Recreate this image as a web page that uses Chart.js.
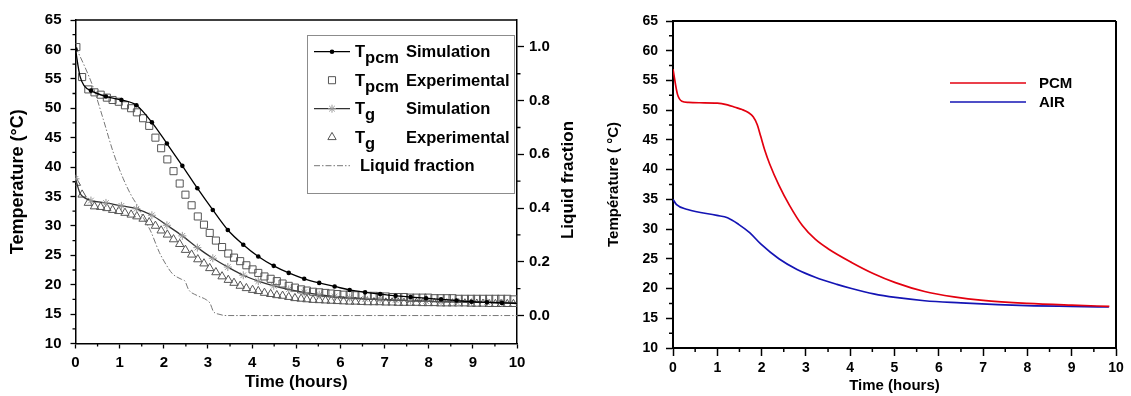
<!DOCTYPE html>
<html>
<head>
<meta charset="utf-8">
<script src="https://cdn.jsdelivr.net/npm/chart.js@4.4.0/dist/chart.umd.min.js"></script>
<style>
  html, body { margin: 0; padding: 0; background: #fff; }
  #left { position: absolute; left: 0; top: 0; width: 590px; height: 396px; }
  #right { position: absolute; left: 595px; top: 0; width: 536px; height: 396px; }
</style>
</head>
<body>
<div id="left"><canvas id="chartLeft"></canvas></div>
<div id="right"><canvas id="chartRight"></canvas></div>
<script>
// ---- Left panel data ----
const simTimes = [0, 0.1, 0.2, 0.35, 0.69, 1.04, 1.38, 1.73, 2.07, 2.42, 2.76, 3.11, 3.45, 3.8, 4.14, 4.49, 4.83, 5.18, 5.52, 5.87, 6.21, 6.56, 6.9, 7.25, 7.59, 7.94, 8.28, 8.63, 8.97, 9.32, 9.66, 10];
const tpcmSim = [60.0, 55.5, 53.8, 53.0, 52.0, 51.4, 50.5, 47.6, 44.0, 40.2, 36.4, 32.7, 29.3, 26.8, 24.8, 23.2, 22.0, 21.0, 20.3, 19.7, 19.1, 18.7, 18.4, 18.1, 17.9, 17.7, 17.5, 17.3, 17.1, 17.0, 16.9, 16.8];
const tgSim = [38.0, 35.6, 34.8, 34.3, 33.9, 33.4, 32.9, 31.8, 30.1, 28.3, 26.3, 24.5, 23.0, 21.6, 20.6, 19.8, 19.2, 18.7, 18.3, 18.0, 17.8, 17.6, 17.5, 17.4, 17.3, 17.2, 17.1, 17.05, 17.0, 17.0, 16.9, 16.9];

const expTimes = [0.02, 0.15, 0.29, 0.43, 0.57, 0.71, 0.84, 0.98, 1.12, 1.26, 1.39, 1.53, 1.67, 1.81, 1.94, 2.08, 2.22, 2.36, 2.49, 2.63, 2.77, 2.91, 3.04, 3.18, 3.32, 3.46, 3.59, 3.73, 3.87, 4.01, 4.14, 4.28, 4.42, 4.56, 4.69, 4.83, 4.97, 5.11, 5.24, 5.38, 5.52, 5.66, 5.79, 5.93, 6.07, 6.21, 6.34, 6.48, 6.62, 6.76, 6.89, 7.03, 7.17, 7.31, 7.44, 7.58, 7.72, 7.86, 7.99, 8.13, 8.27, 8.41, 8.54, 8.68, 8.82, 8.96, 9.09, 9.23, 9.37, 9.51, 9.64, 9.78, 9.92];
const tpcmExp = [60.4, 55.3, 53.2, 52.7, 52.3, 51.8, 51.4, 51.1, 50.5, 50.0, 49.3, 48.3, 47.0, 45.0, 43.2, 41.3, 39.3, 37.2, 35.3, 33.5, 31.6, 30.2, 28.8, 27.5, 26.4, 25.3, 24.6, 24.0, 23.3, 22.6, 22.0, 21.4, 21.0, 20.6, 20.2, 19.8, 19.5, 19.2, 19.0, 18.8, 18.7, 18.6, 18.5, 18.4, 18.3, 18.3, 18.2, 18.2, 18.1, 18.1, 18.0, 18.0, 17.9, 17.9, 17.9, 17.8, 17.8, 17.8, 17.8, 17.7, 17.7, 17.7, 17.7, 17.6, 17.6, 17.6, 17.6, 17.6, 17.6, 17.6, 17.6, 17.6, 17.5];
const tgExp = [37.3, 35.3, 33.9, 33.3, 33.2, 33.0, 32.7, 32.5, 32.2, 31.9, 31.6, 31.2, 30.6, 30.0, 29.2, 28.5, 27.7, 26.9, 25.9, 25.1, 24.3, 23.6, 22.8, 22.1, 21.4, 20.8, 20.3, 19.8, 19.4, 19.1, 18.9, 18.6, 18.4, 18.2, 18.1, 17.9, 17.7, 17.6, 17.5, 17.4, 17.35, 17.3, 17.25, 17.2, 17.15, 17.1, 17.1, 17.05, 17.0, 17.0, 17.0, 16.95, 16.95, 16.9, 16.9, 16.9, 16.9, 16.85, 16.85, 16.85, 16.8, 16.8, 16.8, 16.8, 16.8, 16.75, 16.75, 16.75, 16.7, 16.7, 16.7, 16.7, 16.7];

const lfTimes = [0, 0.2, 0.4, 0.63, 0.86, 1.08, 1.27, 1.4, 1.55, 1.7, 1.9, 2.05, 2.2, 2.4, 2.48, 2.56, 2.75, 2.97, 3.05, 3.12, 3.25, 3.42, 10];
const liquidFraction = [1.0, 0.93, 0.85, 0.73, 0.605, 0.51, 0.445, 0.41, 0.36, 0.315, 0.235, 0.19, 0.155, 0.135, 0.128, 0.097, 0.075, 0.058, 0.045, 0.016, 0.005, 0.0, 0.0];

const legendSymbols = ['T', 'T', 'T', 'T', ''];
const legendSubs = ['pcm', 'pcm', 'g', 'g', ''];
const legendKinds = ['Simulation', 'Experimental', 'Simulation', 'Experimental', 'Liquid fraction'];

// ---- Right panel data ----
const pcmTimes = [0, 0.1, 0.2, 0.35, 0.6, 1.0, 1.23, 1.4, 1.56, 1.7, 1.81, 1.9, 1.98, 2.07, 2.18, 2.39, 2.63, 2.92, 3.21, 3.5, 4.03, 4.53, 5.02, 5.68, 6.34, 7.0, 8.0, 9.0, 9.85];
const pcmTemp = [56.9, 52.7, 51.5, 51.3, 51.25, 51.2, 50.9, 50.5, 50.1, 49.6, 48.9, 47.6, 45.6, 43.3, 41.0, 37.4, 34.0, 30.6, 28.3, 26.7, 24.4, 22.5, 21.0, 19.5, 18.6, 18.0, 17.5, 17.2, 17.0];
const airTimes = [0, 0.08, 0.33, 0.99, 1.23, 1.48, 1.73, 1.98, 2.39, 2.8, 3.21, 3.7, 4.03, 4.53, 5.02, 5.68, 6.5, 7.33, 8.15, 8.97, 9.84];
const airTemp = [35.0, 34.1, 33.3, 32.3, 31.9, 30.8, 29.4, 27.5, 25.0, 23.2, 21.9, 20.7, 20.0, 19.1, 18.5, 17.95, 17.6, 17.3, 17.1, 17.0, 16.9];
const rightLabels = ['PCM', 'AIR'];

Chart.defaults.font.family = "'Liberation Sans', Arial, sans-serif";
Chart.defaults.font.weight = 'bold';
Chart.defaults.color = '#000';

const toPoints = (xs, ys) => xs.map((x, i) => ({ x: x, y: ys[i] }));

function drawMarker(ctx, style, x, y, r, stroke, fill) {
  ctx.save();
  ctx.strokeStyle = stroke;
  ctx.fillStyle = fill;
  ctx.lineWidth = 1;
  ctx.beginPath();
  if (style === 'circle') {
    ctx.arc(x, y, r, 0, Math.PI * 2);
    ctx.fill();
  } else if (style === 'rect') {
    const s = r * Math.SQRT1_2;
    ctx.rect(x - s, y - s, 2 * s, 2 * s);
    ctx.stroke();
  } else if (style === 'triangle') {
    for (let k = 0; k < 3; k++) {
      const a = -Math.PI / 2 + k * 2 * Math.PI / 3;
      const px = x + Math.cos(a) * r, py = y + Math.sin(a) * r;
      if (k === 0) ctx.moveTo(px, py); else ctx.lineTo(px, py);
    }
    ctx.closePath();
    ctx.stroke();
  } else if (style === 'star') {
    for (let k = 0; k < 4; k++) {
      const a = k * Math.PI / 4;
      ctx.moveTo(x - Math.cos(a) * r, y - Math.sin(a) * r);
      ctx.lineTo(x + Math.cos(a) * r, y + Math.sin(a) * r);
    }
    ctx.stroke();
  }
  ctx.restore();
}

// Frame (top/right border) and minor ticks
const frameTicks = {
  id: 'frameTicks',
  afterDraw(chart, args, opts) {
    const { ctx, chartArea: a, scales } = chart;
    ctx.save();
    ctx.strokeStyle = '#000';
    ctx.lineWidth = opts.width;
    ctx.beginPath();
    ctx.moveTo(a.left, a.top);
    ctx.lineTo(a.right, a.top);
    if (opts.rightBorder) {
      ctx.moveTo(a.right, a.top);
      ctx.lineTo(a.right, a.bottom);
    }
    ctx.stroke();
    ctx.lineWidth = opts.tickWidth;
    ctx.beginPath();
    opts.minor.forEach(m => {
      const s = scales[m.axis];
      for (let v = m.from; v <= m.to + 1e-9; v += m.step) {
        const p = s.getPixelForValue(v);
        if (m.axis === 'x') {
          ctx.moveTo(p, a.bottom);
          ctx.lineTo(p, a.bottom + m.len);
        } else if (m.axis === 'y') {
          ctx.moveTo(a.left, p);
          ctx.lineTo(a.left - m.len, p);
        } else {
          ctx.moveTo(a.right, p);
          ctx.lineTo(a.right + m.len, p);
        }
      }
    });
    ctx.stroke();
    ctx.restore();
  }
};

// Legend of the left panel, with subscripts
const leftLegend = {
  id: 'leftLegend',
  afterDraw(chart) {
    const ctx = chart.ctx;
    ctx.save();
    ctx.strokeStyle = '#8c8c8c';
    ctx.lineWidth = 1;
    ctx.strokeRect(307.5, 35.5, 207, 158);
    const rowY = [51.7, 80.2, 108.7, 137.2, 165.7];
    chart.data.datasets.forEach((ds, i) => {
      const y = rowY[i];
      if (ds.showLine !== false) {
        ctx.save();
        ctx.strokeStyle = ds.borderColor;
        ctx.lineWidth = ds.borderWidth;
        ctx.setLineDash(ds.borderDash || []);
        ctx.beginPath();
        ctx.moveTo(314, y);
        ctx.lineTo(350, y);
        ctx.stroke();
        ctx.restore();
      }
      if (ds.legendMarker) {
        drawMarker(ctx, ds.pointStyle, 332, y, ds.legendMarker, ds.pointBorderColor, ds.pointBackgroundColor);
      }
      ctx.fillStyle = '#000';
      ctx.textBaseline = 'alphabetic';
      ctx.textAlign = 'left';
      ctx.font = "bold 16.5px 'Liberation Sans', Arial, sans-serif";
      if (legendSymbols[i]) {
        ctx.fillText(legendSymbols[i], 355, y + 5.5);
        const w = ctx.measureText(legendSymbols[i]).width;
        ctx.fillText(legendSubs[i], 355 + w, y + 11.5);
        ctx.fillText(legendKinds[i], 406, y + 5.5);
      } else {
        ctx.fillText(legendKinds[i], 360, y + 5.5);
      }
    });
    // right axis title, reading bottom to top
    ctx.translate(568, 180);
    ctx.rotate(-Math.PI / 2);
    ctx.textAlign = 'center';
    ctx.textBaseline = 'middle';
    ctx.font = "bold 17px 'Liberation Sans', Arial, sans-serif";
    ctx.fillText('Liquid fraction', 0, 0);
    ctx.restore();
  }
};

const rightLegend = {
  id: 'rightLegend',
  afterDraw(chart) {
    const ctx = chart.ctx;
    const rowY = [83, 102];
    ctx.save();
    chart.data.datasets.forEach((ds, i) => {
      ctx.strokeStyle = ds.borderColor;
      ctx.lineWidth = ds.borderWidth;
      ctx.beginPath();
      ctx.moveTo(355, rowY[i]);
      ctx.lineTo(431, rowY[i]);
      ctx.stroke();
      ctx.fillStyle = '#000';
      ctx.font = "bold 15px 'Liberation Sans', Arial, sans-serif";
      ctx.textBaseline = 'middle';
      ctx.fillText(ds.label, 444, rowY[i] + 1);
    });
    ctx.restore();
  }
};

const simRadius = simTimes.map(t => (t === 0.1 || t === 0.2 || t === 10) ? 0 : 2.3);

new Chart(document.getElementById('chartLeft'), {
  type: 'line',
  data: {
    datasets: [
      {
        label: 'Tpcm Simulation',
        data: toPoints(simTimes, tpcmSim),
        borderColor: '#000', borderWidth: 1.3,
        pointStyle: 'circle', pointRadius: simRadius,
        pointBackgroundColor: '#000', pointBorderColor: '#000', pointBorderWidth: 0,
        cubicInterpolationMode: 'monotone', legendMarker: 2.3, yAxisID: 'y'
      },
      {
        label: 'Tpcm Experimental',
        data: toPoints(expTimes, tpcmExp),
        showLine: false,
        pointStyle: 'rect', pointRadius: 5,
        pointBackgroundColor: 'rgba(0,0,0,0)', pointBorderColor: '#555', pointBorderWidth: 1,
        legendMarker: 5, yAxisID: 'y'
      },
      {
        label: 'Tg Simulation',
        data: toPoints(simTimes, tgSim),
        borderColor: '#333', borderWidth: 1.3,
        pointStyle: 'star', pointRadius: simRadius.map(r => r ? 4 : 0),
        pointBackgroundColor: 'rgba(0,0,0,0)', pointBorderColor: '#9a9a9a', pointBorderWidth: 1,
        cubicInterpolationMode: 'monotone', legendMarker: 4, yAxisID: 'y'
      },
      {
        label: 'Tg Experimental',
        data: toPoints(expTimes, tgExp),
        showLine: false,
        pointStyle: 'triangle', pointRadius: 4.8,
        pointBackgroundColor: 'rgba(0,0,0,0)', pointBorderColor: '#555', pointBorderWidth: 1,
        legendMarker: 4.8, yAxisID: 'y'
      },
      {
        label: 'Liquid fraction',
        data: toPoints(lfTimes, liquidFraction),
        borderColor: '#777', borderWidth: 1,
        borderDash: [6, 2, 1.5, 2],
        pointRadius: 0, cubicInterpolationMode: 'monotone',
        yAxisID: 'y1'
      }
    ]
  },
  options: {
    responsive: true,
    maintainAspectRatio: false,
    animation: false,
    layout: { padding: { top: 20, right: 0, left: 0, bottom: 0 } },
    plugins: {
      legend: { display: false },
      tooltip: { enabled: false },
      frameTicks: {
        width: 1.5, tickWidth: 1.3, rightBorder: false,
        minor: [
          { axis: 'x', from: 0.5, to: 9.5, step: 1, len: 3 },
          { axis: 'y', from: 12.5, to: 62.5, step: 5, len: 3 },
          { axis: 'y1', from: 0.1, to: 0.9, step: 0.2, len: 3.5 }
        ]
      }
    },
    scales: {
      x: {
        type: 'linear', min: 0, max: 10,
        afterFit: s => { s.height = 52.5; },
        border: { display: true, color: '#000', width: 1.5 },
        grid: { drawOnChartArea: false, drawTicks: true, tickLength: 5, tickColor: '#000', tickWidth: 1.3 },
        ticks: { stepSize: 1, padding: 5, font: { size: 15, weight: 'bold' }, maxRotation: 0 },
        title: { display: true, text: 'Time (hours)', font: { size: 17, weight: 'bold' }, padding: { top: 0, bottom: 3 } }
      },
      y: {
        type: 'linear', position: 'left', min: 10, max: 65,
        afterFit: s => { s.width = 75.5; },
        border: { display: true, color: '#000', width: 1.5 },
        grid: { drawOnChartArea: false, drawTicks: true, tickLength: 5, tickColor: '#000', tickWidth: 1.3 },
        ticks: { stepSize: 5, padding: 9, font: { size: 15, weight: 'bold' } },
        title: { display: true, text: 'Temperature (°C)', font: { size: 18, weight: 'bold' }, padding: { top: 7, bottom: 0 } }
      },
      y1: {
        type: 'linear', position: 'right', min: -0.104, max: 1.10,
        afterFit: s => { s.width = 73; },
        border: { display: true, color: '#000', width: 1.5 },
        grid: { drawOnChartArea: false, drawTicks: true, tickLength: 7, tickColor: '#000', tickWidth: 1.3 },
        ticks: { stepSize: 0.2, includeBounds: false, padding: 5, font: { size: 15, weight: 'bold' },
                 callback: v => v.toFixed(1) }
      }
    }
  },
  plugins: [frameTicks, leftLegend]
});

new Chart(document.getElementById('chartRight'), {
  type: 'line',
  data: {
    datasets: [
      {
        label: rightLabels[0],
        data: toPoints(pcmTimes, pcmTemp),
        borderColor: '#e3000f', borderWidth: 1.7,
        pointRadius: 0, cubicInterpolationMode: 'monotone'
      },
      {
        label: rightLabels[1],
        data: toPoints(airTimes, airTemp),
        borderColor: '#1414b4', borderWidth: 1.7,
        pointRadius: 0, cubicInterpolationMode: 'monotone'
      }
    ]
  },
  options: {
    responsive: true,
    maintainAspectRatio: false,
    animation: false,
    layout: { padding: { top: 21, right: 15, left: 0, bottom: 0 } },
    plugins: {
      legend: { display: false },
      tooltip: { enabled: false },
      frameTicks: {
        width: 2, tickWidth: 1.5, rightBorder: true,
        minor: [
          { axis: 'x', from: 0.5, to: 9.5, step: 1, len: 4 },
          { axis: 'y', from: 12.5, to: 62.5, step: 5, len: 4 }
        ]
      }
    },
    scales: {
      x: {
        type: 'linear', min: 0, max: 10,
        afterFit: s => { s.height = 48; },
        border: { display: true, color: '#000', width: 2 },
        grid: { drawOnChartArea: false, drawTicks: true, tickLength: 8, tickColor: '#000', tickWidth: 1.5 },
        ticks: { stepSize: 1, padding: 4, font: { size: 14, weight: 'bold' }, maxRotation: 0 },
        title: { display: true, text: 'Time (hours)', font: { size: 15, weight: 'bold' }, padding: { top: 0, bottom: 1 } }
      },
      y: {
        type: 'linear', position: 'left', min: 10, max: 65,
        afterFit: s => { s.width = 78; },
        border: { display: true, color: '#000', width: 2 },
        grid: { drawOnChartArea: false, drawTicks: true, tickLength: 7, tickColor: '#000', tickWidth: 1.5 },
        ticks: { stepSize: 5, padding: 8, font: { size: 14, weight: 'bold' } },
        title: { display: true, text: 'Température ( °C)', font: { size: 15, weight: 'bold' }, padding: { top: 10, bottom: 0 } }
      }
    }
  },
  plugins: [frameTicks, rightLegend]
});
</script>
</body>
</html>
